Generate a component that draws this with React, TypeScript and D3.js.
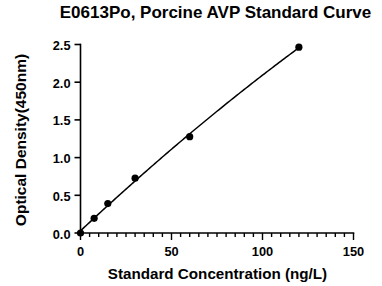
import React from "react";
import * as d3 from "d3";

const concentrations = [0, 7.5, 15, 30, 60, 120];
const densities = [0.0, 0.195, 0.39, 0.727, 1.277, 2.464];
const xTicks = [0, 50, 100, 150];
const yTicks = [0, 0.5, 1.0, 1.5, 2.0, 2.5];

function quadFit(xs: number[], ys: number[]) {
  let s0 = 0, s1 = 0, s2 = 0, s3 = 0, s4 = 0, t0 = 0, t1 = 0, t2 = 0;
  xs.forEach((x, i) => {
    const y = ys[i];
    s0 += 1; s1 += x; s2 += x * x; s3 += x ** 3; s4 += x ** 4;
    t0 += y; t1 += x * y; t2 += x * x * y;
  });
  const M = [
    [s0, s1, s2, t0],
    [s1, s2, s3, t1],
    [s2, s3, s4, t2],
  ];
  for (let i = 0; i < 3; i++) {
    for (let j = i + 1; j < 3; j++) {
      const f = M[j][i] / M[i][i];
      for (let k = i; k < 4; k++) M[j][k] -= f * M[i][k];
    }
  }
  const r = [0, 0, 0];
  for (let i = 2; i >= 0; i--) {
    let s = M[i][3];
    for (let k = i + 1; k < 3; k++) s -= M[i][k] * r[k];
    r[i] = s / M[i][i];
  }
  return (x: number) => r[0] + r[1] * x + r[2] * x * x;
}

export default function App() {
  const W = 382, H = 286;
  const x = d3.scaleLinear().domain([0, 150]).range([80.5, 353.5]);
  const y = d3.scaleLinear().domain([0, 2.5]).range([233, 44.5]);
  const f = quadFit(concentrations, densities);
  const fitPts = d3.range(0, 120.01, 1).map((c) => [c, f(c)] as [number, number]);
  const line = d3.line<[number, number]>().x((d) => x(d[0])).y((d) => y(d[1]));
  const minor = d3.range(0, 150.01, 5);
  const font = "Liberation Sans, Arial, sans-serif";
  return (
    <svg width={W} height={H} style={{ position: "absolute", left: 0, top: 0, background: "#fff" }} fontFamily={font}>
      <text x={215.5} y={17.5} textAnchor="middle" fontSize={17} fontWeight="bold">
        E0613Po, Porcine AVP Standard Curve
      </text>
      {/* y axis */}
      <line x1={x(0)} x2={x(0)} y1={y(0) + 0.8} y2={y(2.5) - 0.8} stroke="#000" strokeWidth={1.6} />
      {yTicks.map((t) => (
        <g key={t}>
          <line x1={x(0) - 6} x2={x(0)} y1={y(t)} y2={y(t)} stroke="#000" strokeWidth={1.6} />
          <text x={x(0) - 10} y={y(t) + 5.5} textAnchor="end" fontSize={12.8} fontWeight="bold">
            {t.toFixed(1)}
          </text>
        </g>
      ))}
      {/* x axis */}
      <line x1={x(0) - 0.8} x2={x(150) + 0.8} y1={y(0)} y2={y(0)} stroke="#000" strokeWidth={1.6} />
      {minor.map((t) => (
        <line key={t} x1={x(t)} x2={x(t)} y1={y(0)} y2={y(0) + (t % 50 === 0 ? 7 : 4)} stroke="#000" strokeWidth={1.4} />
      ))}
      {xTicks.map((t) => (
        <text key={t} x={x(t)} y={256} textAnchor="middle" fontSize={12.8} fontWeight="bold">
          {t}
        </text>
      ))}
      <text x={217.5} y={279} textAnchor="middle" fontSize={15.2} fontWeight="bold">
        Standard Concentration (ng/L)
      </text>
      <text transform={`translate(25.5,140) rotate(-90)`} textAnchor="middle" fontSize={15.5} fontWeight="bold">
        Optical Density(450nm)
      </text>
      <path d={line(fitPts) || ""} fill="none" stroke="#000" strokeWidth={1.5} />
      {concentrations.map((c, i) => (
        <circle key={i} cx={x(c)} cy={y(densities[i])} r={3.6} fill="#000" />
      ))}
    </svg>
  );
}
